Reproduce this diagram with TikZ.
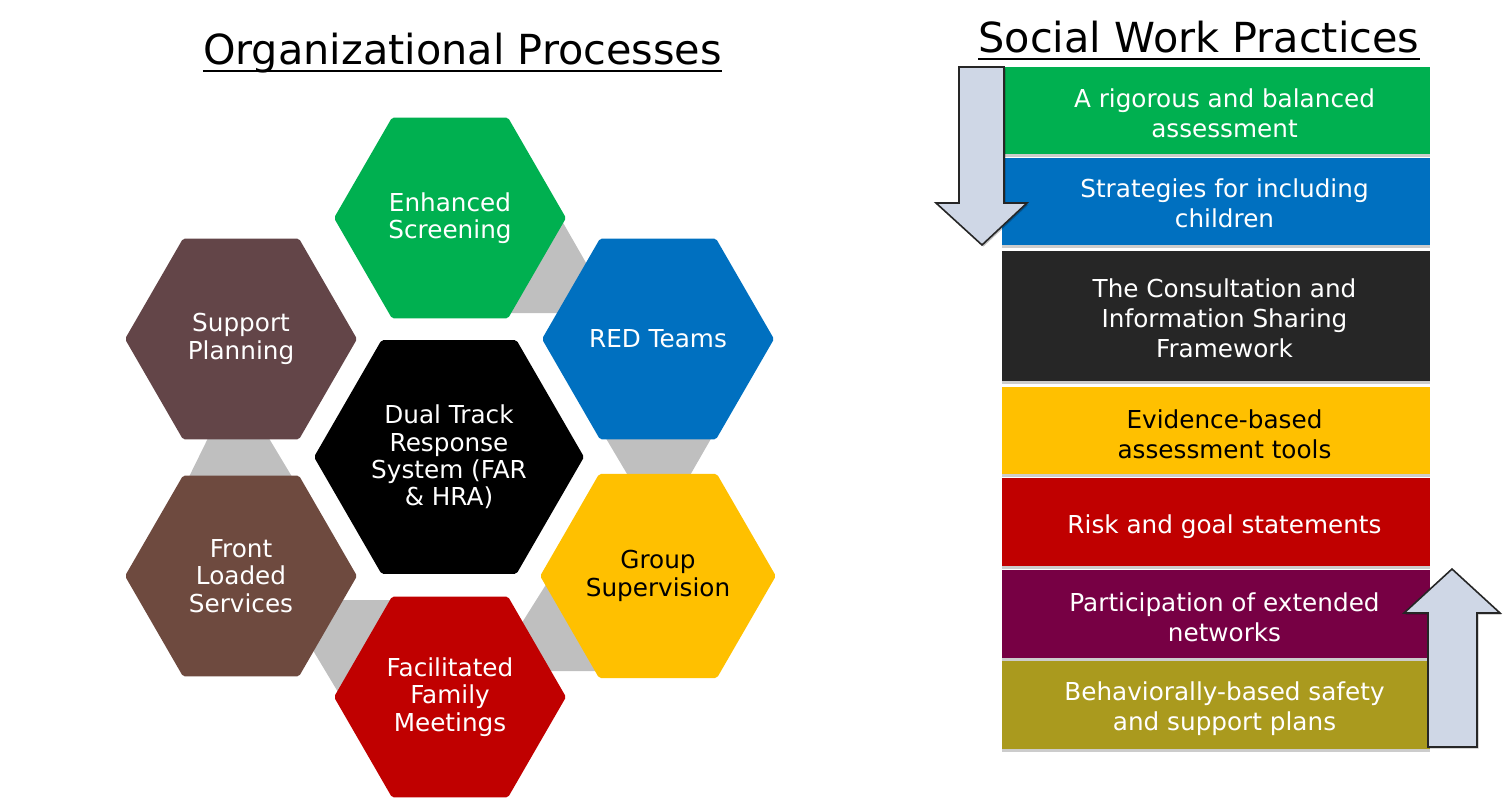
\documentclass[tikz,border=0pt]{standalone}
\usepackage{fontspec}
\setmainfont{DejaVu Sans}
\usetikzlibrary{shapes.geometric,shadows}
\definecolor{cgreen}{HTML}{00B050}
\definecolor{cblue}{HTML}{0070C0}
\definecolor{cbrownA}{HTML}{634548}
\definecolor{cbrownB}{HTML}{6E4A3F}
\definecolor{cyellow}{HTML}{FFC000}
\definecolor{cred}{HTML}{C00000}
\definecolor{cgray}{HTML}{BFBFBF}
\definecolor{cdark}{HTML}{262626}
\definecolor{cpurple}{HTML}{770044}
\definecolor{colive}{HTML}{AA9A1E}
\definecolor{carrow}{HTML}{CFD7E6}
\begin{document}
\begin{tikzpicture}[x=1pt,y=-1pt,
  hexo/.style={regular polygon, regular polygon sides=6, minimum size=232pt,
    inner sep=0pt, outer sep=0pt, text=white, align=center,
    font=\fontsize{24.7}{27.3}\selectfont, rounded corners=2pt},
  hexc/.style={hexo, minimum size=270pt},
  graypiece/.style={fill=cgray},
  swbox/.style={rectangle, minimum width=428pt, inner sep=0pt, outer sep=0pt,
    drop shadow={shadow xshift=0pt, shadow yshift=-2.5pt, opacity=0.2, fill=black}},
  boxtext/.style={align=center, text=white, inner sep=0pt,
    font=\fontsize{24.7}{30}\selectfont},
  titletext/.style={inner sep=0pt, font=\fontsize{41.4}{48}\selectfont},
  bigarrow/.style={fill=carrow, draw=cdark, line width=1.6pt, line join=miter,
    drop shadow={shadow xshift=1.5pt, shadow yshift=-1.5pt, opacity=0.25, fill=black}}
]
\useasboundingbox (0,0) rectangle (1510,798);

% titles
\node[titletext, anchor=base] (t1) at (462.5,64) {Organizational Processes};
\draw[line width=2pt] ([yshift=-7pt]t1.base west) -- ([yshift=-7pt]t1.base east);
\node[titletext, anchor=base] (t2) at (1199,52) {Social Work Practices};
\draw[line width=2pt] ([yshift=-7pt]t2.base west) -- ([yshift=-7pt]t2.base east);

% gray connector pieces (behind hexagons)
\fill[graypiece] (558,214) -- (589,268) -- (565,313) -- (505,313) -- cycle;
\fill[graypiece] (601,430) -- (716,430) -- (685,484) -- (633,484) -- cycle;
\fill[graypiece] (552,575) -- (610,671) -- (540,671) -- (518,629) -- cycle;
\fill[graypiece] (330,600) -- (400,600) -- (341,697) -- (308,642) -- cycle;
\fill[graypiece] (212,430) -- (264,430) -- (297,485) -- (185,485) -- cycle;

% hexagons
\node[hexo, fill=cgreen] (es) at (450,218) {Enhanced\\Screening};
\node[hexo, fill=cblue] (red) at (658,339) {RED Teams};
\node[hexo, fill=cbrownA] (sp) at (241,339) {Support\\Planning};
\node[hexc, fill=black] (dt) at (449,457) {Dual Track\\Response\\System (FAR\\\& HRA)};
\node[hexo, fill=cbrownB] (fl) at (241,576) {Front\\Loaded\\Services};
\node[hexo, fill=cyellow, text=black] (gs) at (658,576) {Group\\Supervision};
\node[hexo, fill=cred] (ff) at (450,697) {Facilitated\\Family\\Meetings};

% social work practice boxes
\node[swbox, fill=cgreen, minimum height=87pt] (b1) at (1216,110.5) {};
\node[swbox, fill=cblue, minimum height=87pt] (b2) at (1216,201.5) {};
\node[swbox, fill=cdark, minimum height=130pt] (b3) at (1216,316) {};
\node[swbox, fill=cyellow, minimum height=87pt] (b4) at (1216,430.5) {};
\node[swbox, fill=cred, minimum height=88pt] (b5) at (1216,522) {};
\node[swbox, fill=cpurple, minimum height=88pt] (b6) at (1216,614) {};
\node[swbox, fill=colive, minimum height=88pt] (b7) at (1216,705) {};

\node[boxtext] (l1) at ([xshift=8.5pt,yshift=-2.5pt]b1.center) {A rigorous and balanced\\assessment};
\node[boxtext] (l2) at ([xshift=8.5pt,yshift=-2pt]b2.center) {Strategies for including\\children};
\node[boxtext] (l3) at ([xshift=8.5pt,yshift=-2pt]b3.center) {The Consultation and\\Information Sharing\\Framework};
\node[boxtext, text=black] (l4) at ([xshift=8.5pt,yshift=-3.5pt]b4.center) {Evidence-based\\assessment tools};
\node[boxtext] (l5) at ([xshift=8.5pt,yshift=-4.5pt]b5.center) {Risk and goal statements};
\node[boxtext] (l6) at ([xshift=8.5pt,yshift=-3.5pt]b6.center) {Participation of extended\\networks};
\node[boxtext] (l7) at ([xshift=8.5pt,yshift=-4pt]b7.center) {Behaviorally-based safety\\and support plans};

% block arrows
\path[bigarrow] (959,67) -- (1004,67) -- (1004,203) -- (1027,203) -- (982,245)
  -- (936,203) -- (959,203) -- cycle;
\path[bigarrow] (1428,747) -- (1477,747) -- (1477,613) -- (1500,613) -- (1452,569)
  -- (1404,613) -- (1428,613) -- cycle;
\end{tikzpicture}
\end{document}
